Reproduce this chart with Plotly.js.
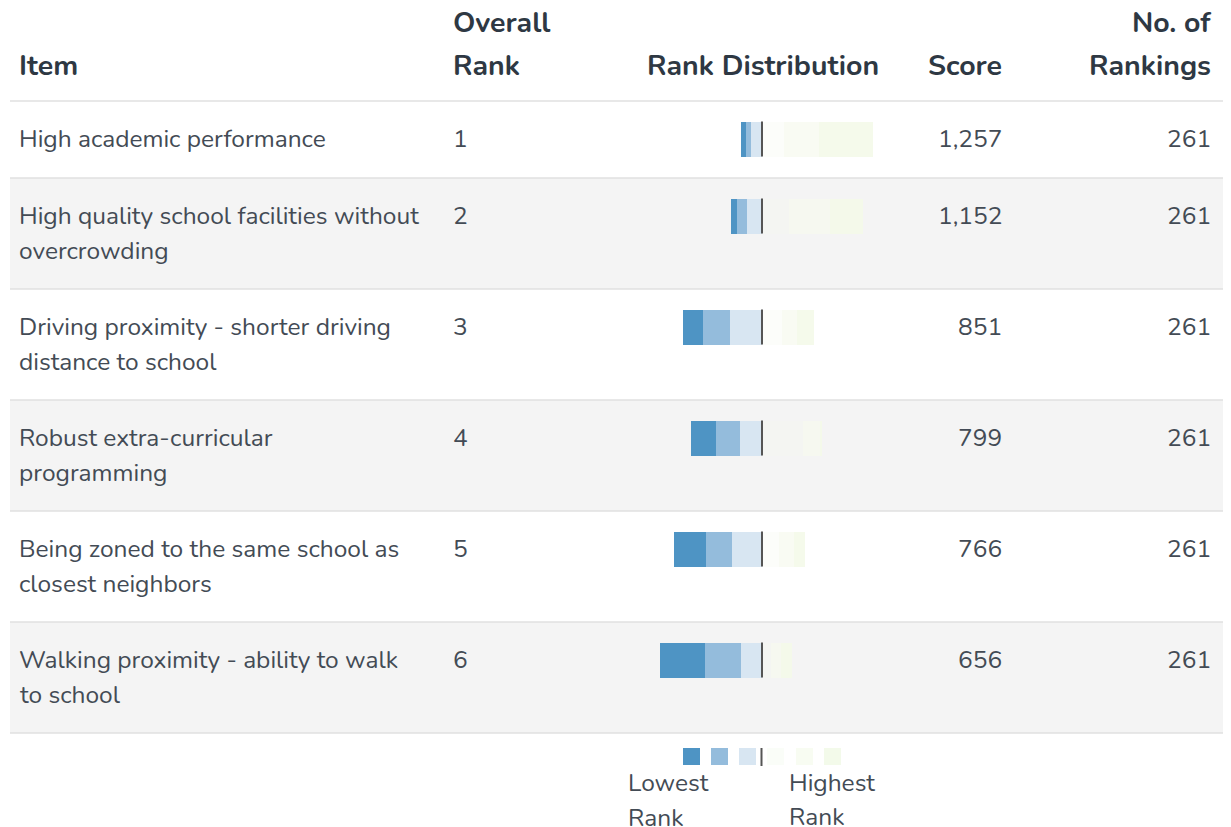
<!DOCTYPE html>
<html>
<head>
<meta charset="utf-8">
<script src="https://cdn.plot.ly/plotly-3.0.1.min.js"></script>
<style>html,body{margin:0;padding:0;background:#fff;}#chart{width:1231px;height:827px;}</style>
</head>
<body>
<div id="chart"></div>
<script>
// ---- data ----
const items = [
  "High academic performance",
  "High quality school facilities without\novercrowding",
  "Driving proximity - shorter driving\ndistance to school",
  "Robust extra-curricular\nprogramming",
  "Being zoned to the same school as\nclosest neighbors",
  "Walking proximity - ability to walk\nto school"
];
const overallRank = [1, 2, 3, 4, 5, 6];
const scores = [1257, 1152, 851, 799, 766, 656];
const numRankings = [261, 261, 261, 261, 261, 261];
// counts per rank position (rank 1 = highest)
const rank1 = [107, 65, 34, 5, 23, 21];
const rank2 = [70, 82, 30, 34, 30, 20];
const rank3 = [43, 53, 40, 81, 33, 18];
const rank4 = [21, 30, 63, 43, 60, 42];
const rank5 = [10, 19, 54, 48, 51, 72];
const rank6 = [10, 12, 40, 50, 64, 88];
const headers = {item: "Item", rank: "Overall\nRank", dist: "Rank Distribution", score: "Score", n: "No. of\nRankings"};
const legendLabels = ["Lowest\nRank", "Highest\nRank"];

// ---- layout constants ----
const W = 1231, H = 827;
const centerPx = 762, pxPerCount = 0.503;
const rowTops = [101, 178, 289, 400, 511, 622];
const rowBottoms = [178, 289, 400, 511, 622, 733];
const firstLineOffset = 38, lineGap = 35, barH = 35;
const FONT = "Nunito, Lato, 'Noto Sans', sans-serif";
const headColor = "#2e3843", bodyColor = "#434b55";
const colors = {
  r6: "#4e94c4", r5: "#94bcdc", r4: "#d8e6f2",
  r3: "rgba(244,246,236,0.25)", r2: "rgba(246,250,238,0.7)", r1: "rgba(243,249,232,0.85)"
};
const px = v => v / W;

const barY = rowTops.map(t => t + firstLineOffset);

function barTrace(vals, color, neg) {
  return {
    type: "bar", orientation: "h",
    x: vals.map(v => neg ? -v : v), y: barY, width: barH,
    marker: {color: color, line: {width: 0}},
    hoverinfo: "skip", showlegend: false
  };
}
const traces = [
  barTrace(rank4, colors.r4, true),
  barTrace(rank5, colors.r5, true),
  barTrace(rank6, colors.r6, true),
  barTrace(rank3, colors.r3, false),
  barTrace(rank2, colors.r2, false),
  barTrace(rank1, colors.r1, false)
];

const shapes = [];
const annotations = [];

// row backgrounds and rules
rowTops.forEach((t, i) => {
  if (i % 2 === 1) {
    shapes.push({type: "rect", xref: "paper", yref: "y", x0: px(10), x1: px(1223), y0: t, y1: rowBottoms[i],
      fillcolor: "#f4f4f4", line: {width: 0}, layer: "below"});
  }
});
[rowTops[0]].concat(rowBottoms).forEach(y => {
  shapes.push({type: "line", xref: "paper", yref: "y", x0: px(10), x1: px(1223), y0: y, y1: y,
    line: {color: "#e0e0e0", width: 1.5}, layer: "below"});
});
// center lines
barY.forEach(c => {
  shapes.push({type: "line", xref: "x", yref: "y", x0: 0, x1: 0, y0: c - barH / 2, y1: c + barH / 2,
    line: {color: "#555", width: 2}});
});

function addText(text, xPix, yFirst, anchor, opts) {
  const lines = String(text).split("\n");
  const shift = anchor === "left" ? -1 : (anchor === "right" ? 1 : 0);
  lines.forEach((ln, k) => {
    annotations.push({text: ln, xref: "paper", yref: "y", x: px(xPix + shift), y: yFirst + k * opts.gap,
      xanchor: anchor, yanchor: "middle", showarrow: false, borderpad: 0, borderwidth: 0,
      font: {family: FONT, size: opts.size, color: opts.color, weight: opts.weight || "normal"}});
  });
}

// headers
const hOpts = {size: 28.5, color: headColor, weight: "bold", gap: 43};
addText(headers.item, 20, 65, "left", hOpts);
addText(headers.rank, 454, 22, "left", hOpts);
addText(headers.dist, 763, 65, "center", hOpts);
addText(headers.score, 1001, 65, "right", hOpts);
addText(headers.n, 1210, 22, "right", hOpts);

const bOpts = {size: 24.5, color: bodyColor, gap: lineGap};
items.forEach((it, i) => {
  const y = barY[i];
  addText(it, 20, y, "left", bOpts);
  addText(String(overallRank[i]), 454, y, "left", bOpts);
  addText(scores[i].toLocaleString("en-US"), 1001, y, "right", bOpts);
  addText(String(numRankings[i]), 1210, y, "right", bOpts);
});

// legend
const legColors = [colors.r6, colors.r5, colors.r4, "rgba(250,253,248,1)", "#f8fcf2", "#f3faea"];
const legX = [683, 711, 739, 767, 796, 824];
legColors.forEach((c, i) => {
  shapes.push({type: "rect", xref: "paper", yref: "y", x0: px(legX[i]), x1: px(legX[i] + 17), y0: 748, y1: 765,
    fillcolor: c, line: {width: 0}});
});
shapes.push({type: "line", xref: "paper", yref: "y", x0: px(761.5), x1: px(761.5), y0: 748, y1: 766,
  line: {color: "#555", width: 2}});
addText(legendLabels[0], 629, 783, "left", bOpts);
addText(legendLabels[1], 790, 783, "left", {size: 24.5, color: bodyColor, gap: 34});

const layout = {
  width: W, height: H,
  margin: {l: 0, r: 0, t: 0, b: 0, pad: 0},
  paper_bgcolor: "#fff", plot_bgcolor: "rgba(0,0,0,0)",
  barmode: "relative", bargap: 0,
  xaxis: {range: [-centerPx / pxPerCount, (W - centerPx) / pxPerCount], visible: false, fixedrange: true},
  yaxis: {range: [H, 0], visible: false, fixedrange: true},
  shapes: shapes, annotations: annotations, showlegend: false
};
Plotly.newPlot("chart", traces, layout, {staticPlot: true, displayModeBar: false});
</script>
</body>
</html>
